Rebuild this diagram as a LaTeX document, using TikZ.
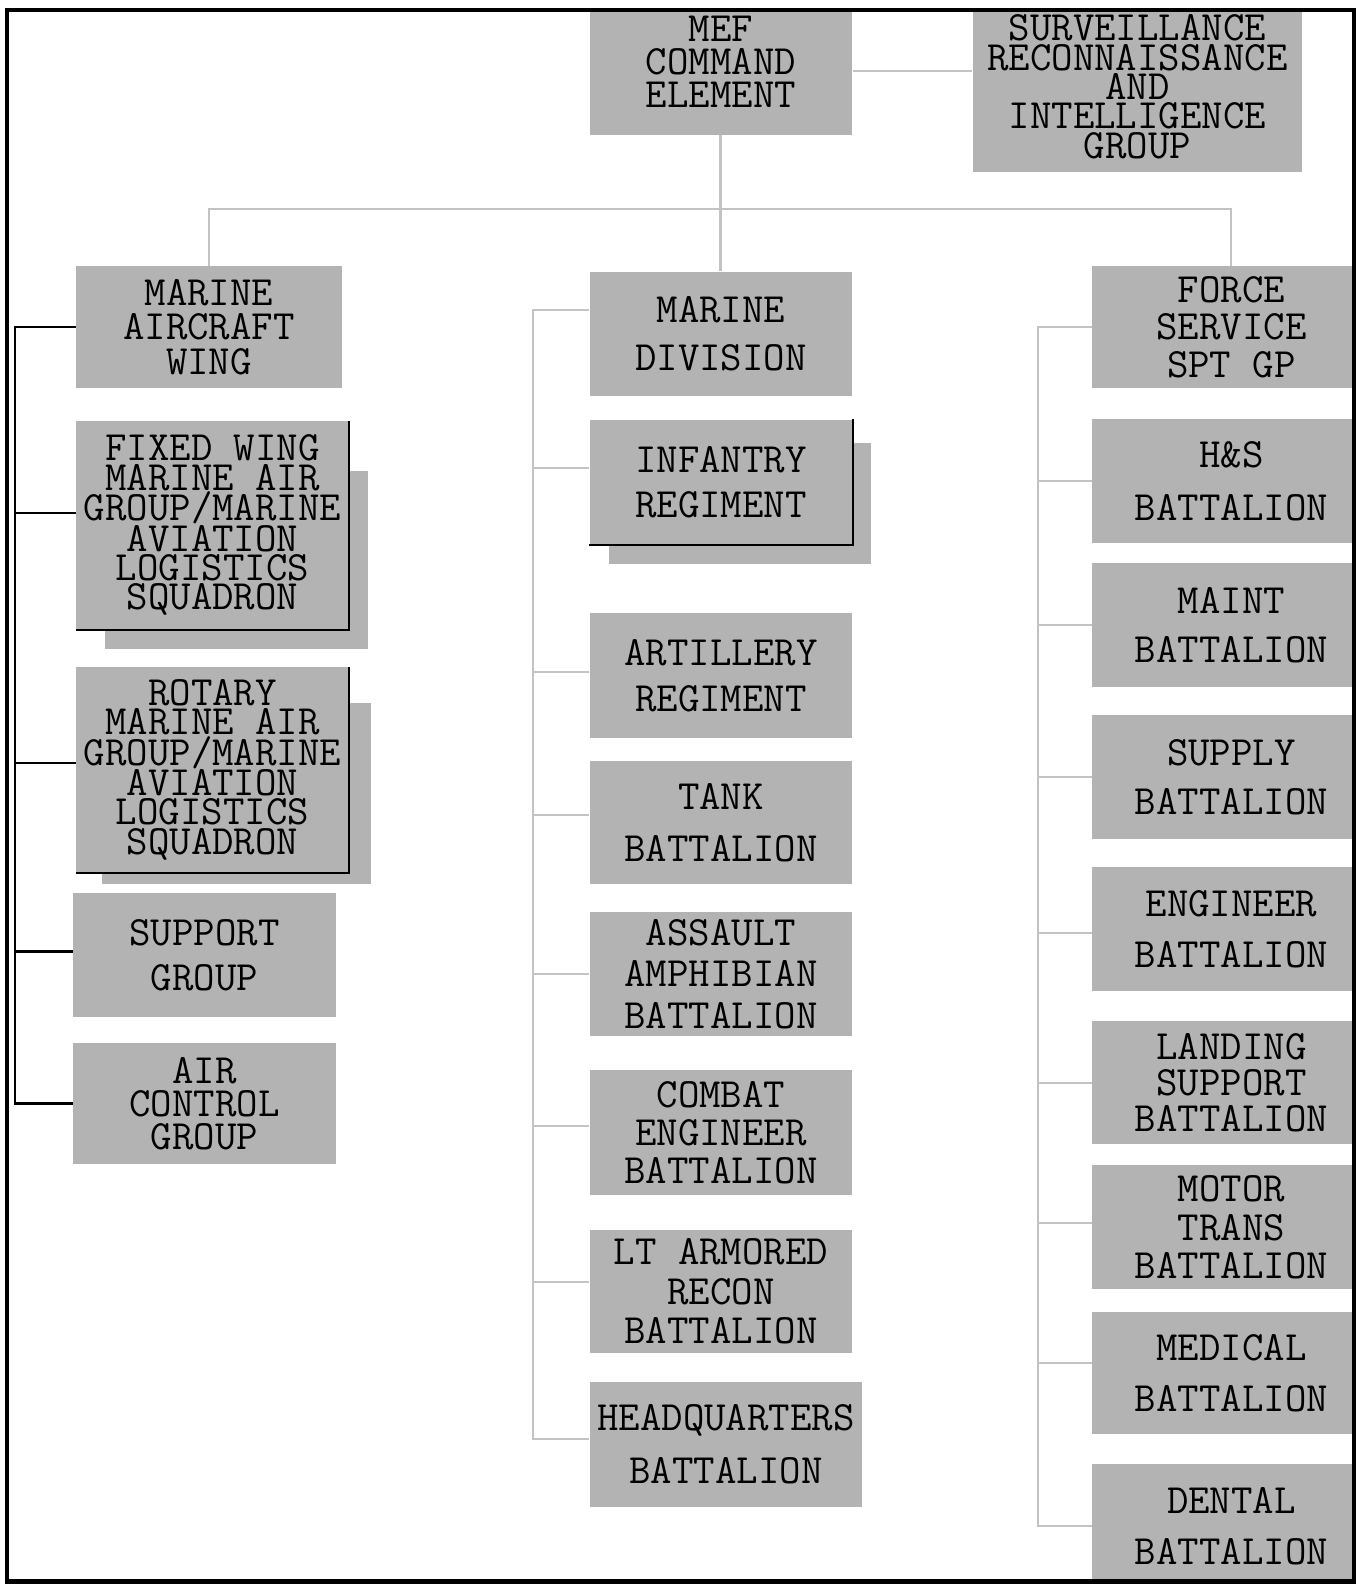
\documentclass[tikz,border=0pt]{standalone}
\usepackage{fontspec}
\usetikzlibrary{positioning,backgrounds}
\definecolor{boxgray}{HTML}{B3B3B3}
\definecolor{linkgray}{HTML}{C3C3C3}

\begin{document}
\begin{tikzpicture}[
  x=1pt,y=-1pt,
  unit/.style={fill=boxgray,inner sep=0pt,align=center,anchor=north west,minimum width=260pt,minimum height=123pt,font=\ttfamily\fontsize{41.2}{50}\selectfont},
  leading/.style={font=\ttfamily\fontsize{41.2}{#1}\selectfont},
  stack/.style={below=#1,anchor=north west},
  link/.style={draw=linkgray,line width=2pt},
  blacklink/.style={draw=black,line width=2.5pt},
  rim/.style={draw=black,line width=2pt}
]
\useasboundingbox (0,0) rectangle (1342,1568);
\begin{scope}
\clip (7,10) rectangle (1339.5,1564.5);
% headquarters row
\node[unit,leading=33,minimum height=144pt] (mef) at (583,-11) {MEF\\COMMAND\\ELEMENT};
\node[unit,leading=29,minimum width=326pt,minimum height=169pt] (srig) at (962,1) {SURVEILLANCE\\RECONNAISSANCE\\AND\\INTELLIGENCE\\GROUP};
% aviation column
\node[unit,leading=34,minimum width=263pt,minimum height=121pt] (maw) at (75,263) {MARINE\\AIRCRAFT\\WING};
\node[unit,leading=29,minimum width=270pt,minimum height=206pt,stack=32pt of maw.south west] (fw) {FIXED WING\\MARINE AIR\\GROUP/MARINE\\AVIATION\\LOGISTICS\\SQUADRON};
\node[unit,leading=29,minimum width=270pt,minimum height=203pt,stack=37pt of fw.south west] (rw) {ROTARY\\MARINE AIR\\GROUP/MARINE\\AVIATION\\LOGISTICS\\SQUADRON};
\node[unit,leading=45,stack=20pt of rw.south west,xshift=-3pt] (sg) {SUPPORT\\GROUP};
\node[unit,leading=32.5,minimum height=120pt,stack=25pt of sg.south west] (acg) {AIR\\CONTROL\\GROUP};
% ground column
\node[unit,leading=48,stack=135pt of mef.south west] (md) {MARINE\\DIVISION};
\node[unit,leading=45,minimum height=124pt,stack=23pt of md.south west] (inf) {INFANTRY\\REGIMENT};
\node[unit,leading=46,minimum height=124pt,stack=67pt of inf.south west] (art) {ARTILLERY\\REGIMENT};
\node[unit,leading=52,minimum height=122pt,stack=22pt of art.south west] (tank) {TANK\\BATTALION};
\node[unit,leading=41,stack=27pt of tank.south west] (aav) {ASSAULT\\AMPHIBIAN\\BATTALION};
\node[unit,leading=38,minimum height=124pt,stack=33pt of aav.south west] (ceb) {COMBAT\\ENGINEER\\BATTALION};
\node[unit,leading=39,minimum height=121pt,stack=34pt of ceb.south west] (lar) {LT ARMORED\\RECON\\BATTALION};
\node[unit,leading=53,minimum width=270pt,stack=29pt of lar.south west] (hq) {HEADQUARTERS\\BATTALION};
% logistics column
\node[unit,leading=37,minimum width=276pt,minimum height=121pt] (fssg) at (1080,263) {FORCE\\SERVICE\\SPT GP};
\node[unit,leading=52,minimum width=276pt,stack=30pt of fssg.south west] (hs) {H\&S\\BATTALION};
\node[unit,leading=49,minimum width=276pt,stack=19pt of hs.south west] (mnt) {MAINT\\BATTALION};
\node[unit,leading=48,minimum width=276pt,stack=27pt of mnt.south west] (sup) {SUPPLY\\BATTALION};
\node[unit,leading=50,minimum width=276pt,stack=27pt of sup.south west] (eng) {ENGINEER\\BATTALION};
\node[unit,leading=36,minimum width=276pt,minimum height=122pt,stack=29pt of eng.south west] (lsb) {LANDING\\SUPPORT\\BATTALION};
\node[unit,leading=38,minimum width=276pt,stack=20pt of lsb.south west] (mtb) {MOTOR\\TRANS\\BATTALION};
\node[unit,leading=50,minimum width=276pt,minimum height=121pt,stack=22pt of mtb.south west] (med) {MEDICAL\\BATTALION};
\node[unit,leading=50,minimum width=276pt,stack=29pt of med.south west] (den) {DENTAL\\BATTALION};
\end{scope}

% drop shadows and dark rims of the raised boxes
\begin{scope}[on background layer]
\fill[boxgray] ([xshift=29pt,yshift=-50pt]fw.north west) rectangle ([xshift=19pt,yshift=-19pt]fw.south east);
\fill[boxgray] ([xshift=26pt,yshift=-36pt]rw.north west) rectangle ([xshift=22pt,yshift=-11pt]rw.south east);
\fill[boxgray] ([xshift=19pt,yshift=-23pt]inf.north west) rectangle ([xshift=18pt,yshift=-19pt]inf.south east);
\end{scope}
\draw[rim] (fw.north east) -- (fw.south east) -- (fw.south west);
\draw[rim] (rw.north east) -- (rw.south east) -- (rw.south west);
\draw[rim] (inf.north east) -- (inf.south east) -- (inf.south west);

% command links
\draw[link] ([yshift=-9pt]mef.east) -- ([yshift=-9pt]mef.east -| srig.west);
\draw[link,line width=3pt] (mef.south) -- (md.north);
\coordinate (bus) at (712,207);
\draw[link] (maw.north) |- (bus) -| (fssg.north);

% aviation trunk
\coordinate (lx) at (15,0);
\draw[blacklink] (maw.west) -- (maw.west -| lx) |- (acg.west);
\draw[blacklink] ([yshift=12pt]fw.west) -- ++(-60,0);
\draw[blacklink] ([yshift=6.5pt]rw.west) -- ++(-60,0);
\draw[blacklink] ([yshift=3.5pt]sg.west) -- ++(-57,0);

% ground trunk
\coordinate (mx) at (527,0);
\draw[link] ([yshift=23pt]md.west) -- ([yshift=23pt]md.west -| mx) |- ([yshift=5pt]hq.west);
\draw[link] ([yshift=14pt]inf.west) -- ++(-56,0);
\draw[link] ([yshift=4pt]art.west) -- ++(-56,0);
\draw[link] ([yshift=8pt]tank.west) -- ++(-56,0);
\draw[link] (aav.west) -- ++(-56,0);
\draw[link] ([yshift=7pt]ceb.west) -- ++(-56,0);
\draw[link] ([yshift=9pt]lar.west) -- ++(-56,0);

% logistics trunk
\coordinate (rx) at (1027,0);
\draw[link] (fssg.west) -- (fssg.west -| rx) |- (den.west);
\draw[link] (hs.west) -- ++(-53,0);
\draw[link] (mnt.west) -- ++(-53,0);
\draw[link] (sup.west) -- ++(-53,0);
\draw[link] ([yshift=-4pt]eng.west) -- ++(-53,0);
\draw[link] (lsb.west) -- ++(-53,0);
\draw[link] ([yshift=4pt]mtb.west) -- ++(-53,0);
\draw[link] ([yshift=10pt]med.west) -- ++(-53,0);

% outer frame
\draw[line width=4pt] (7,10) rectangle (1339.5,1564.5);
\end{tikzpicture}
\end{document}
